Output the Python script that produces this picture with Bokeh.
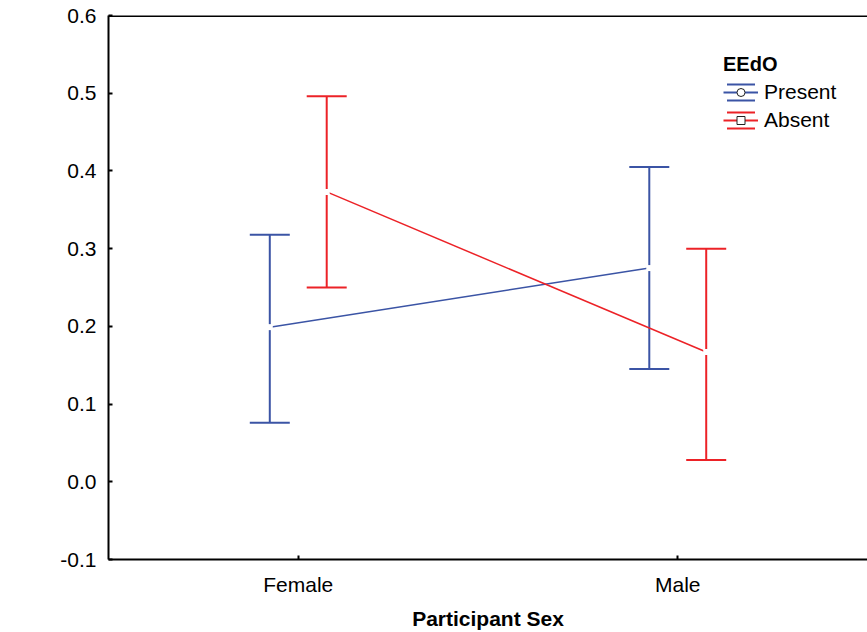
import math
from bokeh.plotting import figure
from bokeh.models import (ColumnDataSource, FactorRange, Range1d, Whisker, TeeHead,
                          FixedTicker, PrintfTickFormatter, Legend, LegendItem, Label, Span)
from bokeh.transform import dodge
from bokeh.embed import file_html
from bokeh.resources import INLINE

# ---- data ----
sex = ["Female", "Male"]
present_mean = [0.199, 0.275]
present_upper = [0.318, 0.405]
present_lower = [0.076, 0.145]
absent_mean = [0.373, 0.167]
absent_upper = [0.496, 0.300]
absent_lower = [0.250, 0.028]
y_ticks = [-0.1, 0.0, 0.1, 0.2, 0.3, 0.4, 0.5, 0.6]
series_names = ["Present", "Absent"]

BLUE = "#3b54a5"
RED = "#ec2227"
FONT = "Liberation Sans"

src_p = ColumnDataSource(dict(sex=sex, mean=present_mean, upper=present_upper, lower=present_lower))
src_a = ColumnDataSource(dict(sex=sex, mean=absent_mean, upper=absent_upper, lower=absent_lower))

p = figure(x_range=FactorRange(factors=sex), y_range=Range1d(-0.1, 0.6),
           width=867, height=632, output_backend="svg", toolbar_location=None,
           min_border_left=108, min_border_right=0, min_border_top=15, min_border_bottom=72)
p.outline_line_color = None
p.xgrid.visible = False
p.ygrid.visible = False
p.background_fill_color = "white"
p.border_fill_color = "white"

for ax in (p.xaxis[0], p.yaxis[0]):
    ax.axis_line_width = 2
    ax.axis_line_color = "black"
    ax.major_tick_in = 4
    ax.major_tick_out = 0
    ax.major_tick_line_width = 2
    ax.major_tick_line_color = "black"
    ax.minor_tick_line_color = None
    ax.major_label_text_font = FONT
    ax.major_label_text_font_size = "21px"
    ax.major_label_text_color = "black"

p.yaxis.ticker = FixedTicker(ticks=y_ticks)
p.yaxis.formatter = PrintfTickFormatter(format="%.1f")
p.yaxis.major_label_standoff = 12

p.xaxis.axis_label = "Participant Sex"
p.xaxis.axis_label_text_font = FONT
p.xaxis.axis_label_text_font_style = "bold"
p.xaxis.axis_label_text_font_size = "21px"
p.xaxis.axis_label_text_color = "black"
p.xaxis.axis_label_standoff = 8
p.xaxis.major_label_standoff = 13

# top border line of the frame
p.add_layout(Span(location=0.6, dimension="width", line_color="black", line_width=3))

legend_items = []
for src, color, off, mk, name in ((src_p, BLUE, -0.075, "circle", series_names[0]),
                                  (src_a, RED, 0.075, "square", series_names[1])):
    xs = dodge("sex", off, range=p.x_range)
    w = Whisker(source=src, base=xs, upper="upper", lower="lower",
                line_color=color, line_width=2, level="underlay",
                upper_head=TeeHead(size=40, line_color=color, line_width=2),
                lower_head=TeeHead(size=40, line_color=color, line_width=2))
    p.add_layout(w)
    p.line(x=xs, y="mean", source=src, line_color=color, line_width=1.5)
    p.scatter(x=xs, y="mean", source=src, marker="square", size=6,
              fill_color="white", line_color=None)
    # legend proxies (not drawn in the plot area)
    caps = p.rect(x="sex", y="mean", width=0.1, height=0.1, source=src,
                  fill_color=None, line_color=color, line_width=2, line_dash="28 16",
                  visible=False)
    mid = p.line(x="sex", y="mean", source=src, line_color=color, line_width=2, visible=False)
    dot = p.scatter(x="sex", y="mean", source=src, marker=mk, size=7,
                    fill_color="white", line_color="#222222", line_width=1, visible=False)
    legend_items.append(LegendItem(label=name, renderers=[caps, mid, dot]))

legend = Legend(items=legend_items, title="EEdO", location=(615, 427),
                title_text_font=FONT, title_text_font_style="bold", title_text_font_size="20px",
                title_text_color="black",
                label_text_font=FONT, label_text_font_size="21px", label_text_color="black",
                glyph_width=35, glyph_height=20, label_standoff=6, spacing=4,
                padding=5, margin=0, title_standoff=4,
                border_line_color=None, background_fill_alpha=0)
p.add_layout(legend)

ylab = Label(x=-78, y=0.2715, x_units="screen", y_units="data", text="IAT",
             angle=math.pi / 2, text_align="center", text_baseline="middle",
             text_font=FONT, text_font_style="bold", text_font_size="22px", text_color="black")
p.add_layout(ylab)

open("out.html", "w").write(file_html(p, INLINE))
